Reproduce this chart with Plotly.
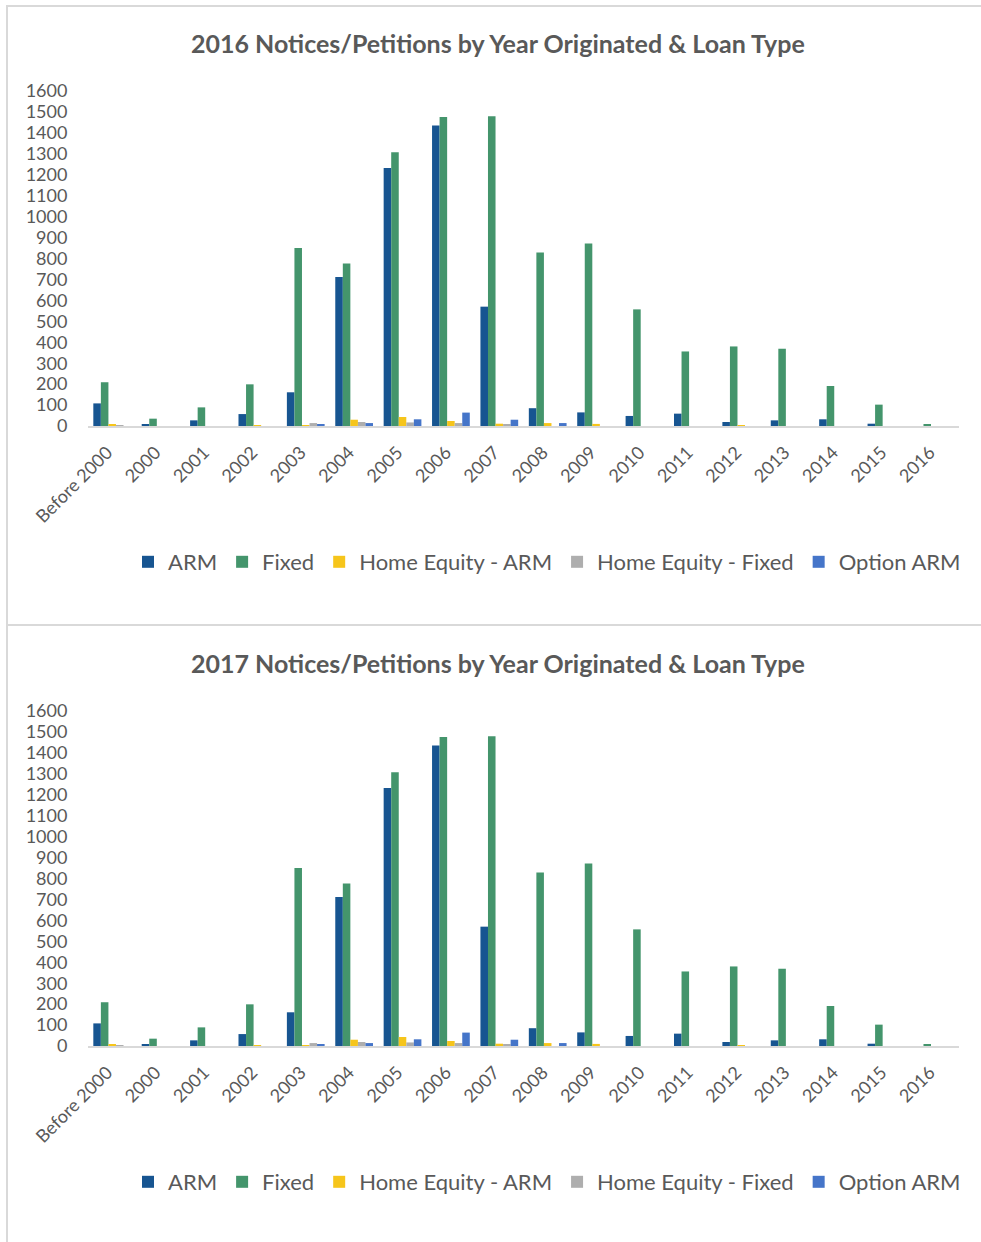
import plotly.graph_objects as go

categories = ["Before 2000", "2000", "2001", "2002", "2003", "2004", "2005", "2006", "2007",
              "2008", "2009", "2010", "2011", "2012", "2013", "2014", "2015", "2016"]
series_names = ["ARM", "Fixed", "Home Equity - ARM", "Home Equity - Fixed", "Option ARM"]
colors = ["#175591", "#44956c", "#f6c51b", "#aeaeae", "#4575c9"]
y_ticks = list(range(0, 1700, 100))

# 2016 chart
arm_2016 = [108, 5, 27, 57, 161, 712, 1232, 1435, 570, 85, 65, 48, 59, 19, 27, 32, 11, 0]
fixed_2016 = [209, 35, 89, 199, 850, 776, 1308, 1476, 1479, 829, 872, 557, 356, 380, 369, 191, 102, 8]
he_arm_2016 = [8, 0, 0, 3, 2, 30, 43, 24, 11, 14, 10, 0, 0, 3, 0, 0, 0, 0]
he_fixed_2016 = [3, 0, 0, 0, 14, 19, 17, 14, 8, 0, 0, 0, 0, 0, 0, 0, 0, 0]
option_arm_2016 = [0, 0, 0, 0, 8, 14, 32, 64, 30, 14, 0, 0, 0, 0, 0, 0, 0, 0]

# 2017 chart
arm_2017 = [108, 5, 27, 57, 161, 712, 1232, 1435, 570, 85, 65, 48, 59, 19, 27, 32, 11, 0]
fixed_2017 = [209, 35, 89, 199, 850, 776, 1308, 1476, 1479, 829, 872, 557, 356, 380, 369, 191, 102, 8]
he_arm_2017 = [8, 0, 0, 3, 2, 30, 43, 24, 11, 14, 10, 0, 0, 3, 0, 0, 0, 0]
he_fixed_2017 = [3, 0, 0, 0, 14, 19, 17, 14, 8, 0, 0, 0, 0, 0, 0, 0, 0, 0]
option_arm_2017 = [0, 0, 0, 0, 8, 14, 32, 64, 30, 14, 0, 0, 0, 0, 0, 0, 0, 0]

titles = ["2016 Notices/Petitions by Year Originated & Loan Type",
          "2017 Notices/Petitions by Year Originated & Loan Type"]

W, H = 981, 1242
FONT = "Lato"
TXT = "#595959"

fig = go.Figure()

charts = [
    ([arm_2016, fixed_2016, he_arm_2016, he_fixed_2016, option_arm_2016], "x", "y", "legend"),
    ([arm_2017, fixed_2017, he_arm_2017, he_fixed_2017, option_arm_2017], "x2", "y2", "legend2"),
]
for data, xa, ya, lg in charts:
    for name, vals, col in zip(series_names, data, colors):
        fig.add_trace(go.Bar(x=categories, y=vals, name=name, marker=dict(color=col, line=dict(width=0)),
                             xaxis=xa, yaxis=ya, legend=lg))

def py(p):
    return 1 - p / H

x_dom = [88 / W, 959 / W]
axis_common = dict(
    showgrid=False, zeroline=False,
    tickfont=dict(family=FONT, size=18, color=TXT),
)
xcommon = dict(axis_common, showline=True, linecolor="#d9d9d9", linewidth=2, tickangle=-45,
               ticks="", domain=x_dom, type="category", ticklabelstandoff=7, ticklabelshift=-5)
ycommon = dict(axis_common, range=[0, 1600], tickvals=y_ticks, showline=False,
               ticks="outside", ticklen=16, tickcolor="rgba(0,0,0,0)")

legend_common = dict(orientation="h", xanchor="left", yanchor="middle",
                     font=dict(family=FONT, size=22, color=TXT), bgcolor="rgba(0,0,0,0)")

fig.update_layout(
    width=W, height=H,
    margin=dict(l=0, r=0, t=0, b=0, autoexpand=False),
    paper_bgcolor="white", plot_bgcolor="white",
    barmode="group", bargap=0.22, bargroupgap=0,
    font=dict(family=FONT, color=TXT),
    xaxis=dict(xcommon, anchor="y"),
    yaxis=dict(ycommon, domain=[py(426), py(91)], anchor="x"),
    xaxis2=dict(xcommon, anchor="y2"),
    yaxis2=dict(ycommon, domain=[py(1046), py(711)], anchor="x2"),
    legend=dict(legend_common, x=128 / W, y=py(562)),
    legend2=dict(legend_common, x=128 / W, y=py(1182)),
    showlegend=True,
)

for t, yp in zip(titles, [43, 663]):
    fig.add_annotation(text="<b>" + t + "</b>", x=498 / W, y=py(yp), xref="paper", yref="paper",
                       xanchor="center", yanchor="middle", showarrow=False,
                       font=dict(family=FONT, size=25, color=TXT))

# frame lines
line_style = dict(color="#d9d9d9", width=2)
fig.add_shape(type="line", xref="paper", yref="paper", x0=7 / W, x1=1, y0=py(6), y1=py(6), line=line_style)
fig.add_shape(type="line", xref="paper", yref="paper", x0=7 / W, x1=1, y0=py(625), y1=py(625), line=line_style)
fig.add_shape(type="line", xref="paper", yref="paper", x0=7 / W, x1=7 / W, y0=0, y1=py(5), line=line_style)

fig.write_html("out.html")
